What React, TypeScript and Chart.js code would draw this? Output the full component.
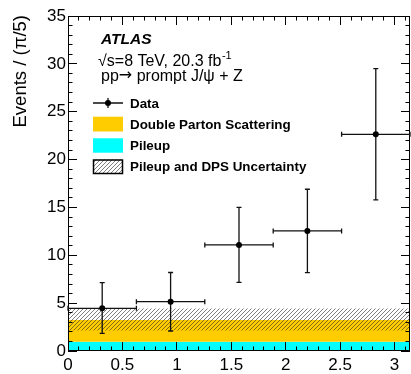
import React, { useEffect, useRef } from 'react';
import { Chart, registerables } from 'chart.js';

Chart.register(...registerables);

// ---- data ----
const binEdges = [0, 0.6283, 1.2566, 1.885, 2.5133, 3.1416];
const binCenters = [0.3142, 0.9425, 1.5708, 2.1991, 2.8274];
const dataValues = [4.46, 5.15, 11.08, 12.54, 22.64];
const dataErrUp = [2.68, 3.05, 3.92, 4.36, 6.86];
const dataErrDown = [2.62, 3.06, 3.91, 4.36, 6.86];
const pileupValues = [0.97, 0.97, 0.97, 0.97, 0.97];
const dpsValues = [2.27, 2.27, 2.27, 2.27, 2.27];
const uncLow = [2.13, 2.13, 2.13, 2.13, 2.13];
const uncHigh = [4.43, 4.43, 4.43, 4.43, 4.43];
const xTicks = [0, 0.5, 1, 1.5, 2, 2.5, 3];
const yTicks = [0, 5, 10, 15, 20, 25, 30, 35];
const xMinorStep = 0.1;
const yMinorStep = 1;
const xMax = 3.1416;
const yMax = 35;

const FONT = '"Liberation Sans", Arial, Helvetica, sans-serif';
const ORANGE = '#ffcc00';
const CYAN = '#00ffff';

function histPoints(vals: number[]) {
  const pts = vals.map((v, i) => ({ x: binEdges[i], y: v }));
  pts.push({ x: binEdges[binEdges.length - 1], y: vals[vals.length - 1] });
  return pts;
}

function makeHatch(): CanvasPattern | string {
  const c = document.createElement('canvas');
  c.width = 4;
  c.height = 4;
  const g = c.getContext('2d');
  if (!g) return 'rgba(0,0,0,0.3)';
  g.strokeStyle = 'rgba(40,40,40,0.7)';
  g.lineWidth = 0.85;
  g.beginPath();
  g.moveTo(0, 4); g.lineTo(4, 0);
  g.moveTo(-1, 1); g.lineTo(1, -1);
  g.moveTo(3, 5); g.lineTo(5, 3);
  g.stroke();
  const p = g.createPattern(c, 'repeat');
  return p || 'rgba(0,0,0,0.3)';
}

export default function App() {
  const ref = useRef<HTMLCanvasElement | null>(null);

  useEffect(() => {
    document.body.style.margin = '0';
    const canvas = ref.current;
    if (!canvas) return;
    const hatch = makeHatch();

    const dpsTotal = dpsValues.map((v, i) => v + pileupValues[i]);

    const frameTicks = {
      id: 'frameTicks',
      afterDatasetsDraw(chart: any) {
        const { ctx, chartArea: a, scales } = chart;
        const x = scales.x;
        const y = scales.y;
        ctx.save();
        ctx.strokeStyle = '#000';
        ctx.lineWidth = 1;
        ctx.beginPath();
        const nx = Math.floor(xMax / xMinorStep + 1e-6);
        for (let i = 0; i <= nx; i++) {
          const v = i * xMinorStep;
          const px = Math.floor(x.getPixelForValue(v)) + 0.5;
          const major = xTicks.some((t) => Math.abs(t - v) < 1e-6);
          const len = major ? 9 : 4.5;
          ctx.moveTo(px, a.bottom);
          ctx.lineTo(px, a.bottom - len);
          ctx.moveTo(px, a.top);
          ctx.lineTo(px, a.top + len);
        }
        const ny = Math.floor(yMax / yMinorStep + 1e-6);
        for (let i = 0; i <= ny; i++) {
          const v = i * yMinorStep;
          const py = Math.floor(y.getPixelForValue(v)) + 0.5;
          const major = yTicks.some((t) => Math.abs(t - v) < 1e-6);
          const len = major ? 9 : 4.5;
          ctx.moveTo(a.left, py);
          ctx.lineTo(a.left + len, py);
          ctx.moveTo(a.right, py);
          ctx.lineTo(a.right - len, py);
        }
        ctx.stroke();
        ctx.strokeRect(a.left + 0.5, a.top + 0.5, a.right - a.left - 1, a.bottom - a.top - 1);

        // data error bars
        ctx.strokeStyle = '#111';
        ctx.lineWidth = 1.3;
        const cap = 2.5;
        ctx.beginPath();
        for (let i = 0; i < dataValues.length; i++) {
          const cx = x.getPixelForValue(binCenters[i]);
          const cy = y.getPixelForValue(dataValues[i]);
          const x0 = x.getPixelForValue(binEdges[i]);
          const x1 = x.getPixelForValue(binEdges[i + 1]);
          const yTop = y.getPixelForValue(dataValues[i] + dataErrUp[i]);
          const yBot = y.getPixelForValue(dataValues[i] - dataErrDown[i]);
          ctx.moveTo(x0, cy); ctx.lineTo(x1, cy);
          ctx.moveTo(x0, cy - cap); ctx.lineTo(x0, cy + cap);
          ctx.moveTo(x1, cy - cap); ctx.lineTo(x1, cy + cap);
          ctx.moveTo(cx, yTop); ctx.lineTo(cx, yBot);
          ctx.moveTo(cx - cap, yTop); ctx.lineTo(cx + cap, yTop);
          ctx.moveTo(cx - cap, yBot); ctx.lineTo(cx + cap, yBot);
        }
        ctx.stroke();
        ctx.fillStyle = '#000';
        for (let i = 0; i < dataValues.length; i++) {
          const cx = x.getPixelForValue(binCenters[i]);
          const cy = y.getPixelForValue(dataValues[i]);
          ctx.beginPath();
          ctx.arc(cx, cy, 3, 0, Math.PI * 2);
          ctx.fill();
        }
        ctx.restore();
      },
      afterDraw(chart: any) {
        const { ctx, chartArea: a } = chart;
        ctx.save();
        // y title
        ctx.fillStyle = '#000';
        ctx.font = `18.5px ${FONT}`;
        ctx.textAlign = 'right';
        ctx.textBaseline = 'alphabetic';
        ctx.translate(26, a.top - 1);
        ctx.rotate(-Math.PI / 2);
        ctx.fillText('Events / (\u03c0/5)', 0, 0);
        ctx.setTransform(1, 0, 0, 1, 0, 0);

        const L = a.left;
        // ATLAS label
        ctx.textAlign = 'left';
        ctx.font = `italic bold 15.5px ${FONT}`;
        ctx.fillText('ATLAS', L + 33, 44);
        ctx.font = `16px ${FONT}`;
        const s1 = '\u221as=8 TeV, 20.3 fb';
        ctx.fillText(s1, L + 30, 66);
        const w1 = ctx.measureText(s1).width;
        ctx.font = `11px ${FONT}`;
        ctx.fillText('-1', L + 30 + w1 + 0.5, 59);
        // pp -> prompt J/psi + Z
        let px = L + 33;
        ctx.font = `16px ${FONT}`;
        ctx.fillText('pp', px, 81);
        px += ctx.measureText('pp').width;
        ctx.font = `16px "DejaVu Sans", ${FONT}`;
        ctx.fillText('\u2192', px, 80);
        px += ctx.measureText('\u2192').width;
        ctx.font = `16px ${FONT}`;
        ctx.fillText(' prompt J/\u03c8 + Z', px, 81);

        // legend
        const bx0 = L + 25;
        const bw = 30;
        const tx = L + 62;
        ctx.font = `bold 13.4px ${FONT}`;
        // Data
        const dy = 103;
        ctx.strokeStyle = '#111';
        ctx.lineWidth = 1.3;
        ctx.beginPath();
        ctx.moveTo(bx0, dy); ctx.lineTo(bx0 + bw, dy);
        ctx.moveTo(bx0 + bw / 2, dy - 5); ctx.lineTo(bx0 + bw / 2, dy + 5);
        ctx.stroke();
        ctx.beginPath();
        ctx.arc(bx0 + bw / 2, dy, 3, 0, Math.PI * 2);
        ctx.fill();
        ctx.fillText('Data', tx, dy + 4.7);
        // DPS
        ctx.fillStyle = ORANGE;
        ctx.fillRect(bx0, 116.7, bw, 14.8);
        ctx.fillStyle = '#000';
        ctx.fillText('Double Parton Scattering', tx, 124 + 4.7);
        // Pileup
        ctx.fillStyle = CYAN;
        ctx.fillRect(bx0, 138.3, bw, 14.4);
        ctx.fillStyle = '#000';
        ctx.fillText('Pileup', tx, 145.5 + 4.7);
        // Uncertainty
        ctx.fillStyle = hatch as any;
        ctx.fillRect(bx0, 159.5, bw, 14.5);
        ctx.strokeStyle = '#000';
        ctx.lineWidth = 1.5;
        ctx.strokeRect(bx0 + 0.5, 160, bw - 1, 13.5);
        ctx.fillStyle = '#000';
        ctx.fillText('Pileup and DPS Uncertainty', tx, 166.5 + 4.7);
        ctx.restore();
      },
    };

    const chart = new Chart(canvas, {
      type: 'scatter',
      data: {
        datasets: [
          {
            label: 'Data',
            data: binCenters.map((c, i) => ({ x: c, y: dataValues[i] })),
            pointRadius: 0,
            showLine: false,
            backgroundColor: '#000',
          },
          {
            label: 'Uncertainty high',
            data: histPoints(uncHigh),
            showLine: true,
            stepped: 'before',
            borderWidth: 0,
            pointRadius: 0,
            borderColor: 'rgba(0,0,0,0)',
            backgroundColor: hatch as any,
            fill: 2,
          },
          {
            label: 'Uncertainty low',
            data: histPoints(uncLow),
            showLine: true,
            stepped: 'before',
            borderWidth: 0,
            pointRadius: 0,
            borderColor: 'rgba(0,0,0,0)',
            fill: false,
          },
          {
            label: 'Double Parton Scattering',
            data: histPoints(dpsTotal),
            showLine: true,
            stepped: 'before',
            borderWidth: 0,
            pointRadius: 0,
            borderColor: 'rgba(0,0,0,0)',
            backgroundColor: ORANGE,
            fill: 4,
          },
          {
            label: 'Pileup',
            data: histPoints(pileupValues),
            showLine: true,
            stepped: 'before',
            borderWidth: 0,
            pointRadius: 0,
            borderColor: 'rgba(0,0,0,0)',
            backgroundColor: CYAN,
            fill: 'origin',
          },
        ],
      },
      options: {
        animation: false,
        responsive: false,
        devicePixelRatio: 1,
        layout: { padding: { top: 16, right: 1, left: 0, bottom: 0 } },
        plugins: {
          legend: { display: false },
          tooltip: { enabled: false },
          title: { display: false },
        },
        scales: {
          x: {
            type: 'linear',
            min: 0,
            max: xMax,
            grid: { display: false, drawTicks: false },
            border: { display: false },
            afterFit: (s: any) => { s.height = 23; },
            afterBuildTicks: (s: any) => { s.ticks = xTicks.map((v) => ({ value: v })); },
            ticks: {
              autoSkip: false,
              maxRotation: 0,
              padding: 4,
              color: '#000',
              font: { family: FONT, size: 17 },
              callback: (v: any) => String(v),
            },
          },
          y: {
            type: 'linear',
            min: 0,
            max: yMax,
            grid: { display: false, drawTicks: false },
            border: { display: false },
            afterFit: (s: any) => { s.width = 68; },
            afterBuildTicks: (s: any) => { s.ticks = yTicks.map((v) => ({ value: v })); },
            ticks: {
              autoSkip: false,
              padding: 2,
              color: '#000',
              font: { family: FONT, size: 17 },
              callback: (v: any) => String(v),
            },
          },
        },
      },
      plugins: [frameTicks],
    } as any);

    return () => chart.destroy();
  }, []);

  return (
    <div style={{ width: 411, height: 374, background: '#fff' }}>
      <canvas ref={ref} width={411} height={374} style={{ width: 411, height: 374, display: 'block' }} />
    </div>
  );
}
